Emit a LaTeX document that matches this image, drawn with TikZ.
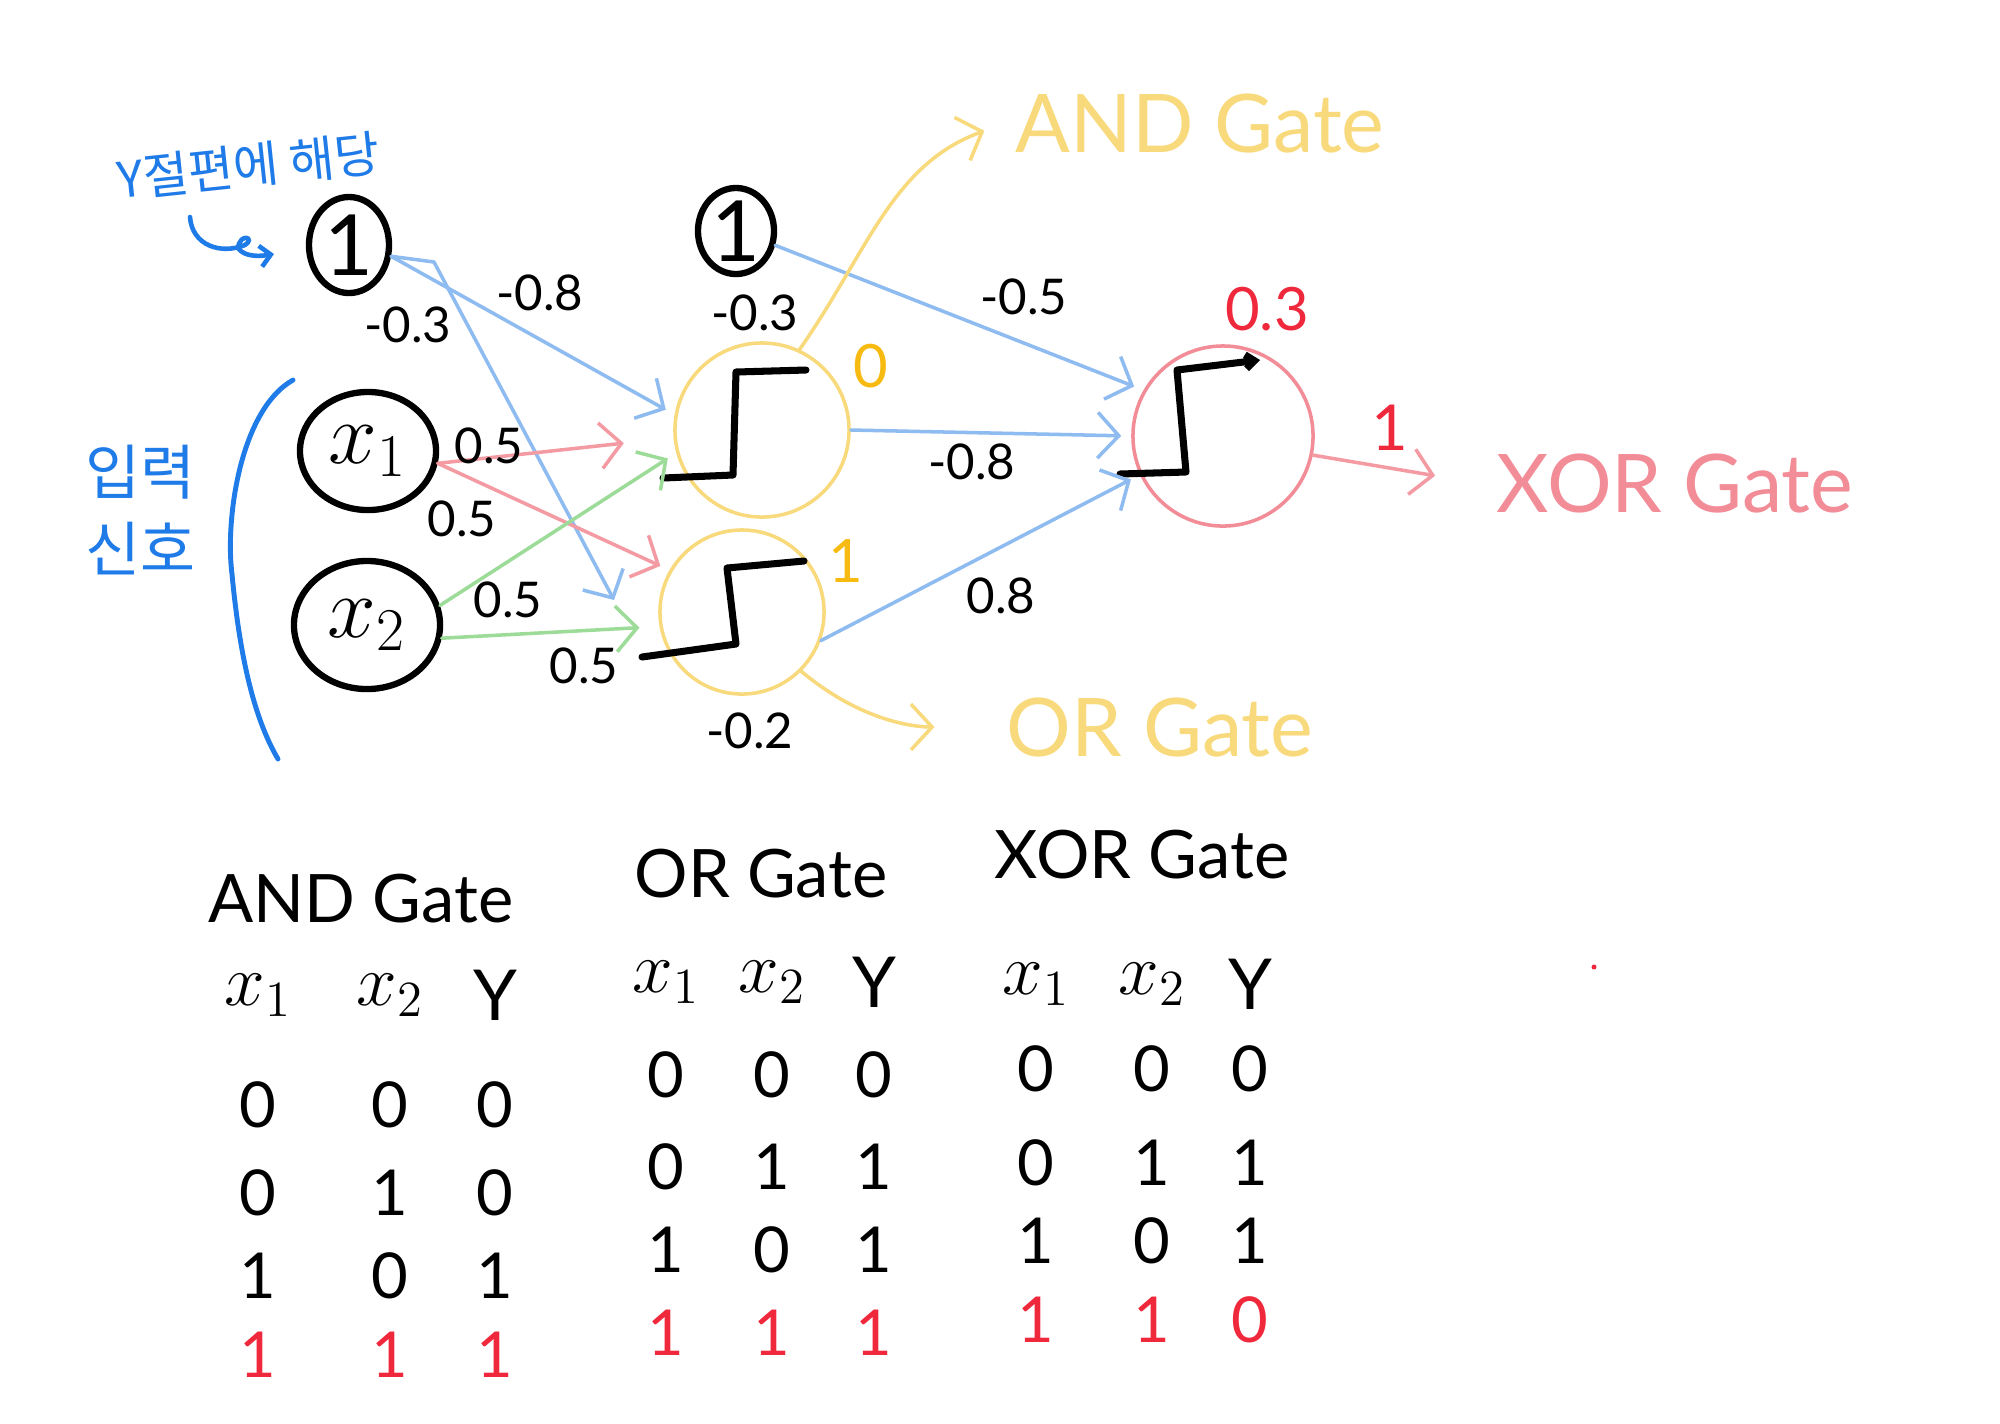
\documentclass[tikz,border=0pt]{standalone}
\usepackage{fontspec}
\setmainfont{Lato}
\newfontfamily\krfont{Noto Sans CJK KR}
\usetikzlibrary{arrows.meta,positioning,shapes.geometric}
\definecolor{inkblue}{HTML}{1E7BE8}
\definecolor{wireblue}{HTML}{8EBBF0}
\definecolor{wirered}{HTML}{F49AA2}
\definecolor{wiregreen}{HTML}{9CDB98}
\definecolor{gateyellow}{HTML}{F8DA7C}
\definecolor{gatepink}{HTML}{F28C96}
\definecolor{labelred}{HTML}{F0283C}
\definecolor{labelorange}{HTML}{F7BA10}
\tikzset{
  hand/.style={-{Straight Barb[length=6pt,width=13pt]}, line width=1pt, line cap=round, line join=round},
  wireb/.style={hand, wireblue},
  wirer/.style={hand, wirered},
  wireg/.style={hand, wiregreen},
  wirey/.style={hand, gateyellow},
  innode/.style={ellipse, draw=black, line width=1.8pt, inner sep=0pt, font=\fontsize{24}{26}\selectfont},
  neuron/.style={circle, draw=gateyellow, line width=1pt, inner sep=0pt},
  stepline/.style={black, line width=2pt, line cap=round, line join=round},
  weight/.style={font=\fontsize{14}{16}\selectfont},
  gatetext/.style={font=\fontsize{23}{26}\selectfont},
  tabtitle/.style={font=\fontsize{19}{22}\selectfont},
  tabhead/.style={font=\fontsize{20}{22}\selectfont},
  tabval/.style={font=\fontsize{18}{20}\selectfont},
  tabred/.style={tabval, labelred}
}
\begin{document}
\begin{tikzpicture}[x=0.01cm, y=-0.01cm]
  \fill[white] (0,0) rectangle (2000,1423);
  \useasboundingbox (0,0) rectangle (2000,1423);
  % input layer
  \node[innode, minimum width=0.8cm, minimum height=0.96cm] (b1) at (349,245) {1};
  \node[innode, minimum width=1.36cm, minimum height=1.18cm] (x1) at (368,451) {$x_1$};
  \node[innode, minimum width=1.46cm, minimum height=1.28cm] (x2) at (367,625) {$x_2$};
  % hidden layer
  \node[innode, minimum width=0.76cm, minimum height=0.86cm] (b2) at (736,231) {1};
  \node[neuron, minimum size=1.74cm] (h1) at (762,430) {};
  \node[neuron, minimum size=1.64cm] (h2) at (742,612) {};
  % output
  \node[neuron, draw=gatepink, minimum size=1.8cm] (y) at (1223,436) {};
  \coordinate (fork) at (434,262);
  \coordinate (h2in) at (614,600);
  % step functions
  \draw[stepline, shift={(h1.center)}] (-99,48) -- (-29,45) -- (-26,-58) -- (44,-60);
  \draw[stepline, shift={(h2.center)}] (-100,45) -- (-6,32) -- (-15,-44) -- (62,-51);
  \draw[stepline, -{Straight Barb[length=2.5pt,width=4pt]}, shift={(y.center)}] (-103,38) -- (-37,36) -- (-46,-66) -- (37,-76);
  % gate labels
  \node[gatetext, gateyellow] (andlbl) at (1200,124) {AND Gate};
  \node[gatetext, gateyellow] (orlbl) at (1160,727) {OR Gate};
  \node[gatetext, gatepink] (xorlbl) at (1675,484) {XOR Gate};
  % weights
  \draw[wireb, shorten >=1mm] (b1.-15) -- (h1.170);
  \draw[wireb] (b1.-15) -- (fork) -- (h2in);
  \draw[wirer, shorten >=5mm] (x1.-10) -- (h1.185);
  \draw[wirer, shorten >=1mm] (x1.-10) -- (h2.150);
  \draw[wireg, shorten >=1mm] (x2.15) -- (h1.195);
  \draw[wireg, shorten >=2mm] (x2.-10) -- (h2.190);
  \draw[wireb, shorten >=1mm] (b2.-20) -- (y.150);
  \draw[wireb, shorten >=1mm] (h1.east) -- (y.west);
  \draw[wireb, shorten >=1mm] (h2.-20) -- (y.205);
  \draw[wirer, shorten >=5mm] (y.-12) -- (xorlbl.west);
  \draw[wirey, shorten >=2mm] (h1.65) to[out=55,in=200] (andlbl.west);
  \draw[wirey, shorten >=6mm] (h2.-45) to[out=-40,in=180] (orlbl.west);
  % weight labels
  \node[weight] (w1) at (408,325) {-0.3};
  \node[weight] (w2) at (540,293) {-0.8};
  \node[weight] (w3) at (489,446) {0.5};
  \node[weight] (w4) at (462,519) {0.5};
  \node[weight] (w5) at (508,600) {0.5};
  \node[weight] (w6) at (584,666) {0.5};
  \node[weight] (w7) at (755,313) {-0.3};
  \node[weight] (w8) at (750,731) {-0.2};
  \node[weight] (w9) at (1024,297) {-0.5};
  \node[weight] (w10) at (972,462) {-0.8};
  \node[weight] (w11) at (1001,596) {0.8};
  \node[weight, font=\fontsize{17}{19}\selectfont, labelorange] (o1) at (871,366) {0};
  \node[weight, font=\fontsize{17}{19}\selectfont, labelorange] (o2) at (846,561) {1};
  \node[weight, font=\fontsize{17}{19}\selectfont, labelred] (o3) at (1267,309) {0.3};
  \node[weight, font=\fontsize{18}{20}\selectfont, labelred] (o4) at (1390,428) {1};
  % notes
  \node[inkblue, font=\krfont\fontsize{14}{16}\selectfont, rotate=6] (bnote) at (249,166) {Y절편에 해당};
  \node[inkblue, font=\krfont\fontsize{17}{22}\selectfont, align=center] (innote) at (140,510) {입력\\신호};
  \draw[inkblue, line width=1.4pt, line cap=round] (293,380) .. controls (240,410) and (225,520) .. (232,574) .. controls (240,660) and (255,720) .. (278,759);
  \draw[inkblue, line width=1.3pt, line cap=round, -{Straight Barb[length=3pt,width=6pt]}] (190,217) .. controls (192,245) and (220,255) .. (245,245) .. controls (256,238) and (240,232) .. (238,248) .. controls (245,258) and (262,256) .. (274,254);
  % truth tables
  \node[tabtitle] (andtab) at (361,899) {AND Gate};
  \node[tabtitle] (ortab) at (761,874) {OR Gate};
  \node[tabtitle] (xortab) at (1142,855) {XOR Gate};
  \foreach \t/\xa/\xb/\xc/\yh in {and/258/390/495/995, or/666/772/874/982, xor/1036/1152/1250/984}{
    \node[tabhead] (\t-h1) at (\xa,\yh) {$x_1$};
    \node[tabhead] (\t-h2) at (\xb,\yh) {$x_2$};
    \node[tabhead] (\t-h3) at (\xc,\yh) {Y};
  }
  \foreach \r/\py/\a/\b/\c in {1/1105/0/0/0, 2/1193/0/1/0, 3/1276/1/0/1}{
    \node[tabval] (and-\r-1) at (258,\py) {\a};
    \node[tabval] (and-\r-2) at (390,\py) {\b};
    \node[tabval] (and-\r-3) at (495,\py) {\c};
  }
  \foreach \r/\py/\a/\b/\c in {1/1075/0/0/0, 2/1167/0/1/1, 3/1250/1/0/1}{
    \node[tabval] (or-\r-1) at (666,\py) {\a};
    \node[tabval] (or-\r-2) at (772,\py) {\b};
    \node[tabval] (or-\r-3) at (874,\py) {\c};
  }
  \foreach \r/\py/\a/\b/\c in {1/1069/0/0/0, 2/1163/0/1/1, 3/1241/1/0/1}{
    \node[tabval] (xor-\r-1) at (1036,\py) {\a};
    \node[tabval] (xor-\r-2) at (1152,\py) {\b};
    \node[tabval] (xor-\r-3) at (1250,\py) {\c};
  }
  \node[tabred] (and-4-1) at (258,1355) {1};
  \node[tabred] (and-4-2) at (390,1355) {1};
  \node[tabred] (and-4-3) at (495,1355) {1};
  \node[tabred] (or-4-1) at (666,1333) {1};
  \node[tabred] (or-4-2) at (772,1333) {1};
  \node[tabred] (or-4-3) at (874,1333) {1};
  \node[tabred] (xor-4-1) at (1036,1320) {1};
  \node[tabred] (xor-4-2) at (1152,1320) {1};
  \node[tabred] (xor-4-3) at (1250,1320) {0};
  \fill[labelred] (1594,967) circle (2.5);
\end{tikzpicture}
\end{document}
